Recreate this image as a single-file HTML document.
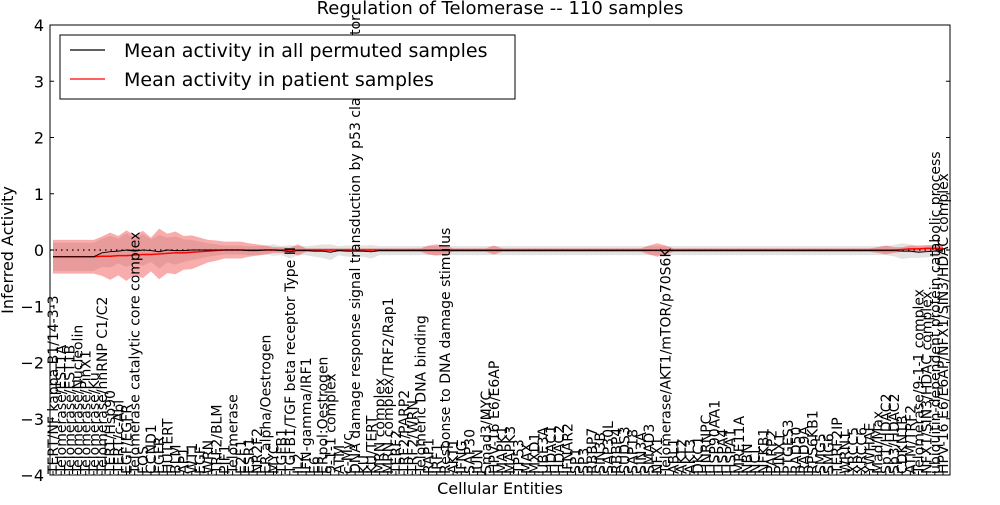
<!DOCTYPE html>
<html><head><meta charset="utf-8">
<style>
html,body{margin:0;padding:0;background:#fff;}
svg text{font-family:"DejaVu Sans","Liberation Sans",sans-serif;}
</style></head>
<body>
<svg id="chart" width="1000" height="500" viewBox="0 0 1000 500" xmlns="http://www.w3.org/2000/svg">
<rect width="1000" height="500" fill="#fff"/>
<g id="plot"></g>
</svg>
<script>
const entities = ["TERT/NF kappa B1/14-3-3","Telomerase/EST1A","Telomerase/EST1B","Telomerase/Nucleolin","Telomerase/PinX1","Telomerase/Ku","Telomerase/hnRNP C1/C2","TERT/Hsp90","TERT/c-Abl","EGF/EGFR","Telomerase catalytic core complex","FOS","CCND1","EGFR","HUTERT","BLM","AP1","WT1","EGF","WRN","TRF2/BLM","PIF1","Telomerase","E2F1","ESR1","NR2F2","ER alpha/Oestrogen","MYC","TGFB1","TGFB1/TGF beta receptor Type II","IL2","IFN-gamma/IRF1","E6","ERpol:Oestrogen","9-1-1 complex","ATM","c-Myc","DNA damage response signal transduction by p53 class mediator","KU","KU/TERT","MRN complex","MRN complex/TRF2/Rap1","TERF2","TRF2/PARP2","TRF2/WRN","Telomeric DNA binding","RAP1","IRF1","Response to DNA damage stimulus","AKT1","IFNG","SAP30","JUN","Smad3/MYC","HPV-16 E6/E6AP","MAPK1","MAPK3","TP53","MAX","MXD1","UBE3A","HDAC1","HDAC2","IFNAR2","SP1","SP3","RBBP7","SIN3B","SAP30L","RBBP4","SUDS3","SAP18","SIN3A","SMAD3","NFX1","Telomerase/AKT1/mTOR/p70S6K","ABL1","AKT2","AKT3","DKC1","HNRNPC","HSP90AA1","HSPA4","HSPA1","MRE11A","NBN","NCL","NFKB1","PARP2","PINX1","PTGES3","RAD50","RAD9A","RPS6KB1","SMG5","SMG6","TERF2IP","WRN1","XRCC5","XRCC6","YWHAE","Mad/Max","Sp1/HDAC2","Sp3/HDAC2","CDKN1B","ATM/TRF2","Telomerase/9-1-1 complex","NFX1/SIN3/HDAC complex","ubiquitin-dependent protein catabolic process","HPV-16 E6/E6AP/NFX1/SIN3/HDAC complex"];
const patientMean = [
-0.12,-0.12,-0.12,-0.12,-0.12,-0.12,-0.11,-0.11,-0.10,-0.10,
-0.09,-0.08,-0.08,-0.07,-0.06,-0.05,-0.05,-0.04,-0.03,-0.02,
-0.01,0,0,0,0,0,0,0,0,0,
0,0,0,0,0,0,0,0,0,0,
0,0,0,0,0,0,0,0,0,0,
0,0,0,0,0,0,0,0,0,0,
0,0,0,0,0,0,0,0,0,0,
0,0,0,0,0,0,0,0,0,0,
0,0,0,0,0,0,0,0,0,0,
0,0,0,0,0,0,0,0,0,0,
0,0,0,0,0.01,0.02,0.02,0.03,0.03,0.03];
const patientStd = [
0.3,0.3,0.3,0.3,0.3,0.3,0.35,0.42,0.35,0.45,
0.35,0.42,0.3,0.45,0.35,0.38,0.3,0.3,0.25,0.2,
0.18,0.15,0.15,0.15,0.12,0.1,0.08,0.05,0.05,0.04,
0.1,0.03,0.03,0.03,0.03,0.03,0.03,0.03,0.03,0.03,
0.03,0.03,0.03,0.03,0.03,0.03,0.08,0.1,0.08,0.03,
0.03,0.03,0.03,0.03,0.08,0.03,0.03,0.03,0.03,0.03,
0.03,0.03,0.03,0.03,0.03,0.03,0.03,0.03,0.03,0.03,
0.03,0.03,0.03,0.08,0.12,0.08,0.03,0.03,0.03,0.03,
0.03,0.03,0.03,0.03,0.03,0.03,0.03,0.03,0.03,0.03,
0.03,0.03,0.03,0.03,0.03,0.03,0.03,0.03,0.03,0.03,
0.03,0.05,0.08,0.05,0.04,0.06,0.06,0.06,0.06,0.06];
const permMean = [
-0.12,-0.12,-0.12,-0.12,-0.12,-0.12,-0.05,-0.03,-0.02,0,
-0.02,0,-0.01,-0.03,0,-0.01,-0.01,0,0,0,
0,0,0,0,-0.01,-0.01,0,0,-0.01,-0.03,
-0.01,-0.01,-0.02,-0.02,-0.04,-0.01,-0.02,-0.02,-0.02,-0.03,
-0.01,-0.01,-0.01,-0.01,-0.01,-0.01,-0.01,-0.01,-0.01,-0.01,
-0.01,-0.01,-0.01,-0.01,-0.01,-0.01,-0.01,-0.01,-0.01,-0.01,
-0.01,-0.01,-0.01,-0.01,-0.01,-0.01,-0.01,-0.01,-0.01,-0.01,
-0.01,-0.01,-0.01,-0.01,-0.01,-0.01,-0.01,-0.01,-0.01,-0.01,
-0.01,-0.01,-0.01,-0.01,-0.01,-0.01,-0.01,-0.01,-0.01,-0.01,
-0.01,-0.01,-0.01,-0.01,-0.01,-0.01,-0.01,-0.01,-0.01,-0.01,
-0.01,-0.01,-0.01,-0.01,-0.02,-0.02,-0.04,-0.03,-0.02,-0.02];
const permStd = [
0.25,0.25,0.25,0.25,0.25,0.25,0.25,0.28,0.22,0.3,
0.22,0.28,0.2,0.3,0.22,0.25,0.2,0.18,0.15,0.12,
0.1,0.08,0.08,0.08,0.08,0.08,0.08,0.1,0.08,0.12,
0.08,0.08,0.1,0.12,0.14,0.08,0.1,0.1,0.1,0.12,
0.08,0.08,0.08,0.08,0.08,0.08,0.08,0.08,0.08,0.08,
0.08,0.08,0.08,0.08,0.08,0.08,0.08,0.08,0.08,0.08,
0.08,0.08,0.08,0.08,0.08,0.08,0.08,0.08,0.08,0.08,
0.08,0.08,0.08,0.08,0.08,0.08,0.08,0.08,0.08,0.08,
0.08,0.08,0.08,0.08,0.08,0.08,0.08,0.08,0.08,0.08,
0.08,0.08,0.08,0.08,0.08,0.08,0.08,0.08,0.08,0.08,
0.08,0.08,0.08,0.1,0.14,0.12,0.1,0.1,0.1,0.1];
const yTicks = [4,3,2,1,0,-1,-2,-3,-4];

const NS="http://www.w3.org/2000/svg";
const L=50,R=950,T=25,B=475;
const n=entities.length;
const xs=i=>53+i*(890/(n-1));
const ys=v=>T+(4-v)*(B-T)/8;
const g=document.getElementById('plot');
function mk(tag,attrs,parent){const e=document.createElementNS(NS,tag);for(const k in attrs)e.setAttribute(k,attrs[k]);(parent||g).appendChild(e);return e;}
function band(mean,sd){let up=[],dn=[];for(let i=0;i<n;i++){up.push(xs(i)+','+ys(mean[i]+sd[i]));}for(let i=n-1;i>=0;i--){dn.push(xs(i)+','+ys(mean[i]-sd[i]));}return up.concat(dn).join(' ');}
function line(mean){return mean.map((v,i)=>xs(i)+','+ys(v)).join(' ');}

const gb=mk('polygon',{points:band(permMean,permStd),fill:'#c8c8c8','fill-opacity':'0.5',stroke:'none'});


const rb=mk('polygon',{points:band(patientMean,patientStd),fill:'#f03030','fill-opacity':'0.4',stroke:'none'});


const zl=mk('line',{x1:L,x2:R,y1:ys(0),y2:ys(0),stroke:'#000','stroke-dasharray':'1.5,4','stroke-width':1.2});


const pl=mk('polyline',{points:line(patientMean),fill:'none',stroke:'#ff0000','stroke-width':1.5});


const kl=mk('polyline',{points:line(permMean),fill:'none',stroke:'#000','stroke-width':1});



const frame=mk('rect',{x:L,y:T,width:R-L,height:B-T,fill:'none',stroke:'#000','stroke-width':1});



yTicks.forEach(v=>{
  const y=ys(v);
  const t1=mk('line',{x1:L,x2:L+4,y1:y,y2:y,stroke:'#000'});
  
  
  const t2=mk('line',{x1:R-4,x2:R,y1:y,y2:y,stroke:'#000'});
  
  
  const tx=mk('text',{x:L-6,y:y+6,'text-anchor':'end','font-size':16});
  tx.textContent=(v<0?'\u2212'+(-v):String(v));
  
  
});
entities.forEach((name,i)=>{
  const x=xs(i);
  const tk=mk('line',{x1:x,x2:x,y1:B,y2:B-4,stroke:'#000'});
  
  
  const tx=mk('text',{x:0,y:0,transform:`translate(${x+5},${B-1}) rotate(-90)`,'font-size':14});
  tx.textContent=name;
  
  
});

const title=mk('text',{x:500,y:14,'text-anchor':'middle','font-size':18});
title.textContent='Regulation of Telomerase -- 110 samples';


const xl=mk('text',{x:500,y:494,'text-anchor':'middle','font-size':16});
xl.textContent='Cellular Entities';


const yl=mk('text',{x:0,y:0,transform:'translate(13,250) rotate(-90)','text-anchor':'middle','font-size':16});
yl.textContent='Inferred Activity';



const lg=mk('g',{});


mk('rect',{x:60,y:35,width:455,height:64,fill:'#fff',stroke:'#000'},lg);
const e1=mk('line',{x1:70,x2:105,y1:50,y2:50,stroke:'#000','stroke-width':1.2},lg);


const t1=mk('text',{x:124,y:57,'font-size':19},lg);
t1.textContent='Mean activity in all permuted samples';


const e2=mk('line',{x1:70,x2:105,y1:79,y2:79,stroke:'#ff0000','stroke-width':1.2},lg);


const t2=mk('text',{x:124,y:86,'font-size':19},lg);
t2.textContent='Mean activity in patient samples';


</script>
</body></html>
